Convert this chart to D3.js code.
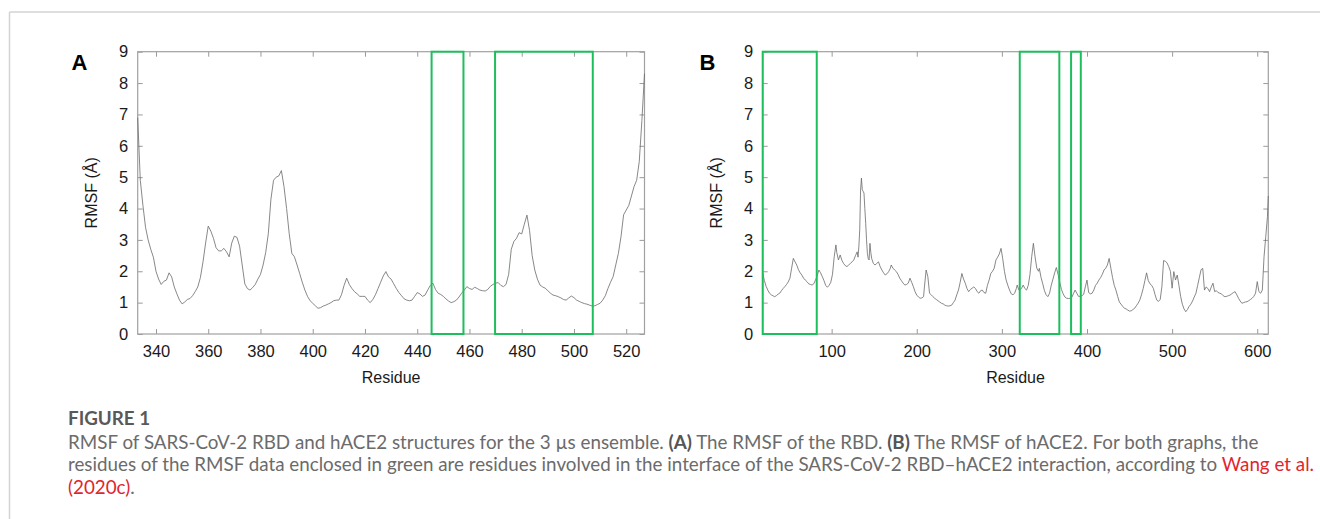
<!DOCTYPE html>
<html>
<head>
<meta charset="utf-8">
<title>RMSF of RBD and hACE2</title>
<style>
  body { margin: 0; background: #fff; }
  svg text { white-space: pre; }
</style>
</head>
<body>
<div id="container"></div>
<script src="https://cdn.jsdelivr.net/npm/d3@7"></script>
<script>
// ---- data ----
var rbdResidue = [333,334,335,336,337,338,339,340,341,342,343,344,345,346,347,348,349,350,351,352,353,354,355,356,357,358,359,360,
  361,362,363,364,365,366,367,368,369,370,371,372,373,374,375,376,377,378,379,380,381,382,383,384,385,386,387,388,389,390,
  391,392,393,394,395,396,397,398,399,400,401,402,403,404,405,406,407,408,409,410,411,412,413,414,415,416,417,418,419,420,
  421,422,423,424,425,426,427,428,429,430,431,432,433,434,435,436,437,438,439,440,441,442,443,444,445,446,447,448,449,450,
  451,452,453,454,455,456,457,458,459,460,461,462,463,464,465,466,467,468,469,470,471,472,473,474,475,476,477,478,479,480,
  481,482,483,484,485,486,487,488,489,490,491,492,493,494,495,496,497,498,499,500,501,502,503,504,505,506,507,508,509,510,
  511,512,513,514,515,516,517,518,519,520,521,522,523,524,525,526,527];
var rbdRmsf = [6.9,4.9,4.1,3.4,3.0,2.7,2.45,2.0,1.75,1.58,1.68,1.72,1.95,1.82,1.5,1.28,1.08,0.96,1.02,1.1,1.13,1.22,1.35,1.5,1.8,2.3,2.9,3.44,
  3.28,3.05,2.75,2.65,2.65,2.73,2.62,2.46,2.9,3.12,3.08,2.8,2.2,1.6,1.45,1.4,1.48,1.58,1.75,1.9,2.2,2.6,3.2,4.3,4.9,5.0,5.04,5.21,4.7,4.0,
  3.2,2.57,2.46,2.2,1.93,1.65,1.4,1.2,1.06,0.98,0.9,0.82,0.84,0.89,0.92,0.96,1.0,1.06,1.08,1.08,1.25,1.55,1.78,1.58,1.45,1.35,1.28,1.2,1.2,1.2,
  1.08,1.0,1.1,1.25,1.45,1.65,1.85,1.99,1.82,1.75,1.6,1.45,1.32,1.22,1.12,1.08,1.06,1.08,1.2,1.32,1.28,1.2,1.24,1.4,1.55,1.62,1.42,1.3,1.26,1.2,
  1.12,1.05,1.0,1.03,1.08,1.18,1.3,1.4,1.51,1.45,1.42,1.49,1.45,1.4,1.38,1.37,1.42,1.52,1.58,1.62,1.64,1.55,1.51,1.58,1.9,2.7,2.95,3.05,3.23,3.19,
  3.5,3.79,3.3,2.5,2.04,1.75,1.56,1.5,1.46,1.38,1.3,1.24,1.22,1.19,1.15,1.1,1.08,1.15,1.21,1.16,1.08,1.04,1.0,0.97,0.95,0.92,0.89,0.9,0.94,0.98,
  1.08,1.22,1.45,1.65,1.83,2.2,2.57,3.1,3.8,3.95,4.1,4.4,4.7,4.9,5.5,6.8,8.3];

var aceResidue = [19,21,23,25,27,29,31,33,35,37,39,41,43,45,47,49,51,53,55,57,59,61,63,65,67,69,71,73,75,77,79,81,83,85,87,89,91,93,95,97,99,
  101,103,105,106,108,110,112,114,116,118,120,122,124,126,128,130,131,132,133,134,135,136,137,138,139,140,141,142,143,144,145,146,147,149,
  151,153,155,157,159,161,163,165,167,169,170,172,174,176,178,180,182,184,186,188,190,192,194,196,198,200,202,204,206,208,209,211,213,215,
  217,219,221,223,225,227,229,231,233,235,237,239,241,243,245,247,249,251,253,255,257,259,261,263,265,267,269,271,273,275,277,279,281,283,
  285,287,289,291,293,295,297,299,301,303,305,307,309,311,313,315,317,318,320,322,324,325,327,329,331,333,335,337,339,341,343,344,346,348,
  350,352,354,356,358,360,362,364,366,368,370,372,374,376,378,380,382,384,386,388,390,392,394,396,398,400,402,404,406,408,410,412,414,416,
  418,420,422,424,426,428,430,432,434,436,438,440,442,444,446,448,450,452,454,456,458,460,462,464,466,468,470,472,474,476,478,480,482,484,
  486,488,490,492,494,496,498,500,502,504,506,508,510,512,514,516,518,520,522,524,526,528,530,532,534,536,538,540,542,544,546,548,550,552,
  554,556,558,560,562,564,566,568,570,572,574,576,578,580,582,584,586,588,590,592,594,596,598,600,602,604,606,608,610,612,613];
var aceRmsf = [1.95,1.7,1.52,1.4,1.3,1.25,1.22,1.19,1.22,1.27,1.3,1.38,1.45,1.51,1.58,1.66,1.78,2.1,2.41,2.3,2.2,2.05,1.95,1.88,1.78,1.72,1.67,1.6,1.58,1.56,1.6,1.72,1.85,2.04,1.95,1.83,1.7,1.55,1.49,1.55,1.65,
  1.9,2.46,2.84,2.6,2.36,2.52,2.35,2.25,2.18,2.15,2.2,2.25,2.3,2.36,2.5,2.62,2.45,2.8,3.32,4.59,4.97,4.6,4.55,4.49,4.0,3.53,3.0,2.57,2.4,2.36,2.89,2.6,2.41,2.25,
  2.2,2.25,2.3,2.15,2.04,1.95,1.88,1.92,1.99,2.1,2.2,2.1,2.04,1.99,1.9,1.78,1.7,1.62,1.56,1.58,1.62,1.78,1.65,1.51,1.35,1.24,1.18,1.14,1.15,1.19,1.5,2.04,1.83,1.3,
  1.25,1.19,1.14,1.1,1.06,1.02,0.98,0.96,0.92,0.9,0.89,0.9,0.92,1.0,1.08,1.25,1.4,1.65,1.93,1.75,1.62,1.45,1.35,1.42,1.46,1.5,1.45,1.35,1.3,1.38,1.4,1.32,1.3,1.55,
  1.72,1.93,2.0,2.1,2.36,2.45,2.55,2.73,2.4,2.0,1.72,1.55,1.4,1.28,1.25,1.3,1.45,1.56,1.4,1.42,1.5,1.56,1.45,1.4,1.55,1.9,2.46,2.89,2.46,2.1,2.0,2.09,1.8,1.6,
  1.38,1.25,1.19,1.3,1.55,1.75,1.95,2.12,1.9,1.65,1.42,1.28,1.18,1.14,1.13,1.14,1.16,1.28,1.4,1.3,1.2,1.2,1.22,1.26,1.5,1.72,1.32,1.28,1.3,1.4,1.55,1.62,1.72,1.8,
  1.9,2.04,2.1,2.2,2.41,2.1,1.8,1.55,1.4,1.2,1.02,0.95,0.88,0.82,0.8,0.76,0.73,0.74,0.78,0.82,0.9,0.98,1.08,1.25,1.45,1.7,1.95,1.7,1.6,1.55,1.45,1.25,1.08,1.04,
  1.1,1.51,2.34,2.32,2.27,2.15,2.0,1.46,1.99,1.72,1.88,1.55,1.2,0.95,0.8,0.71,0.78,0.88,0.95,1.05,1.18,1.3,1.55,1.8,2.05,2.09,1.4,1.5,1.45,1.35,1.5,1.62,1.35,1.38,
  1.32,1.3,1.28,1.22,1.19,1.2,1.22,1.24,1.28,1.32,1.35,1.25,1.14,1.05,0.98,1.0,1.02,1.03,1.06,1.1,1.14,1.2,1.3,1.67,1.35,1.3,1.4,2.46,3.1,3.74,4.4];

// interface residues (green boxes), [start, end]
var rbdBoxes = [[445.5, 457.7], [469.8, 507.2]];
var aceBoxes = [[19, 82.5], [321, 367.5], [381.3, 392.7]];

var rbdTicks = [340, 360, 380, 400, 420, 440, 460, 480, 500, 520];
var aceTicks = [100, 200, 300, 400, 500, 600];
var yTicks = [0, 1, 2, 3, 4, 5, 6, 7, 8, 9];

var captionTitle = "FIGURE 1";
var captionLines = [
  [["RMSF of SARS-CoV-2 RBD and hACE2 structures for the 3 µs ensemble. ", "n"], ["(A)", "b"], [" The RMSF of the RBD. ", "n"], ["(B)", "b"], [" The RMSF of hACE2. For both graphs, the", "n"]],
  [["residues of the RMSF data enclosed in green are residues involved in the interface of the SARS-CoV-2 RBD\u2013hACE2 interaction, according to ", "n"], ["Wang et al.", "l"]],
  [["(2020c)", "l"], [".", "n"]]
];

// ---- drawing ----
var W = 1320, H = 519;
var svg = d3.select("#container").append("svg")
  .attr("width", W).attr("height", H)
  .style("font-family", "'Liberation Sans', Arial, sans-serif");

// page frame
svg.append("line").attr("x1", 9.5).attr("x2", W).attr("y1", 12).attr("y2", 12)
  .attr("stroke", "#d3d3d3").attr("stroke-width", 1.5);
svg.append("line").attr("x1", 9.5).attr("x2", 9.5).attr("y1", 12).attr("y2", H)
  .attr("stroke", "#d3d3d3").attr("stroke-width", 1.5);

var plotTop = 51.7, plotBottom = 334;
var y = d3.scaleLinear().domain([0, 9]).range([plotBottom, plotTop]);
var labelSize = "16.5px";

function panel(letter, xs, ticks, xsRes, ysVal, boxes, letterX) {
  var g = svg.append("g");
  var x0 = xs.range()[0], x1 = xs.range()[1];

  // inward ticks on all four sides
  function styleAxis(sel) {
    sel.select(".domain").remove();
    sel.selectAll(".tick line").attr("stroke", "#9a9a9a");
    sel.selectAll(".tick text").attr("fill", "#1a1a1a")
      .style("font-size", labelSize).style("font-family", "'Liberation Sans', Arial, sans-serif");
  }
  g.append("g").attr("transform", "translate(0," + plotBottom + ")")
    .call(d3.axisBottom(xs).tickValues(ticks).tickSize(-5).tickPadding(11))
    .call(styleAxis);
  g.append("g").attr("transform", "translate(0," + plotTop + ")")
    .call(d3.axisTop(xs).tickValues(ticks).tickSize(-5).tickFormat(""))
    .call(styleAxis);
  g.append("g").attr("transform", "translate(" + x0 + ",0)")
    .call(d3.axisLeft(y).tickValues(yTicks).tickSize(-5).tickPadding(9.5))
    .call(styleAxis);
  g.append("g").attr("transform", "translate(" + x1 + ",0)")
    .call(d3.axisRight(y).tickValues(yTicks).tickSize(-5).tickFormat(""))
    .call(styleAxis);

  g.append("rect")
    .attr("x", x0).attr("y", plotTop)
    .attr("width", x1 - x0).attr("height", plotBottom - plotTop)
    .attr("fill", "none").attr("stroke", "#a0a0a0").attr("stroke-width", 1.2);

  var pts = xsRes.map(function(r, i) { return [r, ysVal[i]]; });
  var line = d3.line()
    .x(function(d) { return xs(d[0]); })
    .y(function(d) { return y(d[1]); });
  g.append("path").datum(pts)
    .attr("d", line)
    .attr("fill", "none")
    .attr("stroke", "#6a6a6a")
    .attr("stroke-width", 0.8);

  g.selectAll(".box").data(boxes).enter().append("rect")
    .attr("x", function(d) { return xs(d[0]); })
    .attr("y", y(9))
    .attr("width", function(d) { return xs(d[1]) - xs(d[0]); })
    .attr("height", y(0) - y(9))
    .attr("fill", "none")
    .attr("stroke", "#1dbf5c")
    .attr("stroke-width", 2);

  g.append("text").text(letter)
    .attr("x", letterX).attr("y", 69.5)
    .style("font-size", "22px").style("font-weight", "bold").attr("fill", "#000");

  g.append("text").text("RMSF (Å)")
    .attr("transform", "translate(" + (x0 - 46) + "," + ((plotTop + plotBottom) / 2) + ") rotate(-90)")
    .attr("text-anchor", "middle").attr("dy", "0.35em")
    .style("font-size", "16px").attr("fill", "#1a1a1a");

  g.append("text").text("Residue")
    .attr("x", (x0 + x1) / 2).attr("y", 382.5)
    .attr("text-anchor", "middle")
    .style("font-size", "16px").attr("fill", "#1a1a1a");
}

var xA = d3.scaleLinear().domain([333, 527]).range([137.7, 644.5]);
var xB = d3.scaleLinear().domain([19, 613]).range([762.7, 1268.3]);
panel("A", xA, rbdTicks, rbdResidue, rbdRmsf, rbdBoxes, 71.5);
panel("B", xB, aceTicks, aceResidue, aceRmsf, aceBoxes, 699.5);

// caption
var cap = svg.append("g").style("font-family", "Lato, 'Open Sans', sans-serif");
cap.append("text").text(captionTitle)
  .attr("x", 68).attr("y", 425)
  .style("font-size", "18.8px").style("font-weight", "bold").attr("fill", "#595959");

captionLines.forEach(function(segs, i) {
  var t = cap.append("text").attr("x", 68).attr("y", 449 + i * 22.3)
    .style("font-size", "18.8px");
  segs.forEach(function(s) {
    t.append("tspan").text(s[0])
      .attr("fill", s[1] === "l" ? "#e0252e" : (s[1] === "b" ? "#555" : "#6b6b6b"))
      .style("font-weight", s[1] === "b" ? "bold" : "normal");
  });
});
</script>
</body>
</html>
